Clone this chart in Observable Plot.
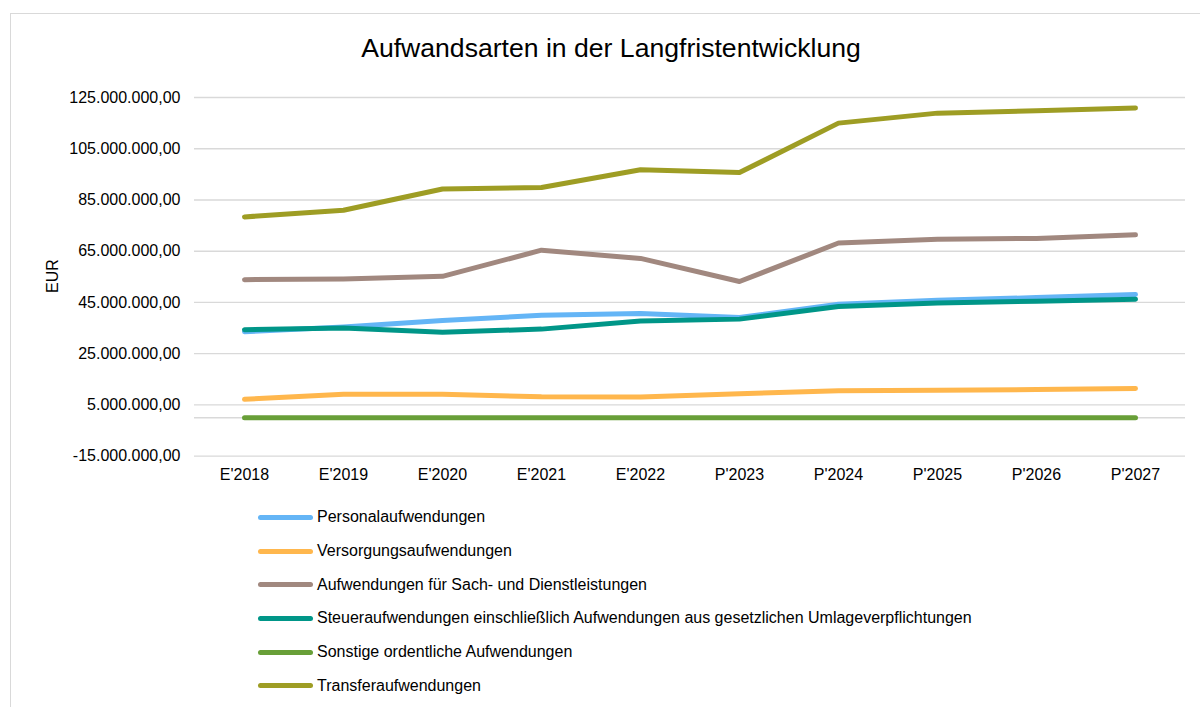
<!DOCTYPE html>
<html>
<head>
<meta charset="utf-8">
<script src="https://cdn.jsdelivr.net/npm/d3@7"></script>
<script src="https://cdn.jsdelivr.net/npm/@observablehq/plot@0.6"></script>
<style>
  body { margin: 0; background: #fff; }
  #wrap { position: relative; width: 1200px; height: 707px; overflow: hidden; background: #fff;
          font-family: "Liberation Sans", Arial, sans-serif; color: #000; }
  #frame { position: absolute; left: 10px; top: 13px; width: 1220px; height: 760px;
           border: 1.3px solid #d9d9d9; box-sizing: border-box; }
  #title { position: absolute; left: 0; width: 1222px; top: 33px; text-align: center;
           font-size: 26.6px; line-height: 30px; white-space: nowrap; }
  #chart { position: absolute; left: 0; top: 0; }
  #eur { position: absolute; left: 52.5px; top: 276px; font-size: 16px; white-space: nowrap;
         transform: translate(-50%, -50%) rotate(-90deg); }
  .leg { position: absolute; left: 0; height: 20px; }
  .sw { position: absolute; left: 258px; width: 55px; height: 5px; border-radius: 2.5px; top: 7.5px; }
  .lt { position: absolute; left: 317px; top: 0; font-size: 16px; line-height: 20px; white-space: nowrap; }
</style>
</head>
<body>
<div id="wrap">
  <div id="frame"></div>
  <div id="chart"></div>
  <div id="title">Aufwandsarten in der Langfristentwicklung</div>
  <div id="eur">EUR</div>
  <div id="legend"></div>
</div>
<script>
const categories = ["E'2018", "E'2019", "E'2020", "E'2021", "E'2022", "P'2023", "P'2024", "P'2025", "P'2026", "P'2027"];

const seriesNames = [
  "Personalaufwendungen",
  "Versorgungsaufwendungen",
  "Aufwendungen für Sach- und Dienstleistungen",
  "Steueraufwendungen einschließlich Aufwendungen aus gesetzlichen Umlageverpflichtungen",
  "Sonstige ordentliche Aufwendungen",
  "Transferaufwendungen"
];

const seriesColors = ["#64B5F6", "#FFB74D", "#A1887F", "#009688", "#689F38", "#9E9D24"];

const personal   = [33600000, 35400000, 38000000, 40000000, 40700000, 39100000, 44300000, 45900000, 46900000, 48100000];
const versorgung = [7200000, 9200000, 9200000, 8200000, 8100000, 9400000, 10500000, 10700000, 11000000, 11400000];
const sach       = [53900000, 54200000, 55200000, 65400000, 62200000, 53200000, 68200000, 69700000, 70000000, 71400000];
const steuer     = [34400000, 35000000, 33400000, 34600000, 37800000, 38500000, 43400000, 44800000, 45500000, 46300000];
const sonstige   = [0, 0, 0, 0, 0, 0, 0, 0, 0, 0];
const transfer   = [78400000, 81000000, 89300000, 89900000, 96800000, 95700000, 115000000, 118900000, 119800000, 120900000];

const yTicks = [-15000000, 5000000, 25000000, 45000000, 65000000, 85000000, 105000000, 125000000];

const seriesValues = [personal, versorgung, sach, steuer, sonstige, transfer];
const data = [];
seriesValues.forEach((vals, si) => {
  vals.forEach((v, i) => data.push({series: seriesNames[si], cat: categories[i], value: v}));
});

const de = d3.formatLocale({decimal: ",", thousands: ".", grouping: [3], currency: ["", " €"], minus: "-"});
const fmt = de.format(",.2f");

const chart = Plot.plot({
  width: 1200,
  height: 490,
  marginTop: 97,
  marginBottom: 34.3,
  marginLeft: 194,
  marginRight: 15,
  style: {fontFamily: "'Liberation Sans', Arial, sans-serif", fontSize: "16px", color: "#000", background: "transparent"},
  x: {type: "point", domain: categories, padding: 0.5, label: null, tickSize: 0, tickPadding: 12},
  y: {domain: [-15000000, 125000000], ticks: yTicks, tickFormat: fmt, label: null, tickSize: 0, tickPadding: 14},
  color: {domain: seriesNames, range: seriesColors},
  marks: [
    Plot.ruleY(yTicks, {stroke: "#d9d9d9", strokeWidth: 1.3}),
    Plot.ruleY([0], {stroke: "#d9d9d9", strokeWidth: 1.3}),
    Plot.lineY(data, {x: "cat", y: "value", z: "series", stroke: "series", strokeWidth: 5,
                      strokeLinecap: "round", strokeLinejoin: "round"})
  ]
});
document.getElementById("chart").appendChild(chart);

const legend = document.getElementById("legend");
const legendTop = 507.3;
const legendStep = 33.7;
seriesNames.forEach((name, i) => {
  const row = document.createElement("div");
  row.className = "leg";
  row.style.top = (legendTop + i * legendStep) + "px";
  const sw = document.createElement("div");
  sw.className = "sw";
  sw.style.background = seriesColors[i];
  const lt = document.createElement("div");
  lt.className = "lt";
  lt.textContent = name;
  row.appendChild(sw);
  row.appendChild(lt);
  legend.appendChild(row);
});
</script>
</body>
</html>
